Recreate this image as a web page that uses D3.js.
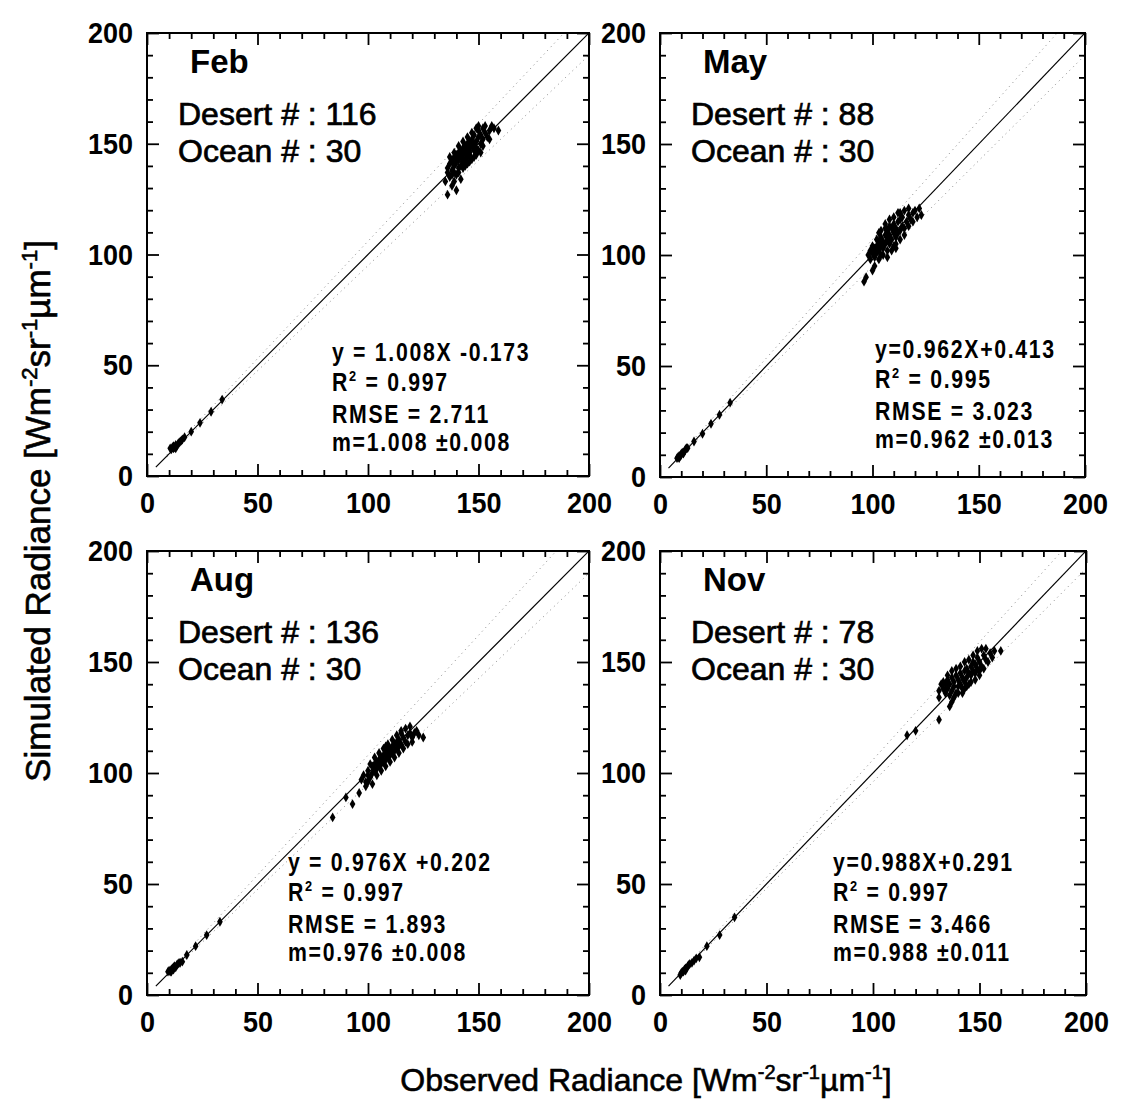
<!DOCTYPE html>
<html>
<head>
<meta charset="utf-8">
<script src="https://cdn.jsdelivr.net/npm/d3@7"></script>
<style>
  body { margin: 0; background: #fff; }
</style>
</head>
<body>
<div id="chart"></div>
<script>
// ---- data ----
var months = ["Feb", "May", "Aug", "Nov"];
var desertCounts = [116, 88, 136, 78];
var oceanCounts = [30, 30, 30, 30];
var eqLabels = ["y = 1.008X -0.173", "y=0.962X+0.413", "y = 0.976X +0.202", "y=0.988X+0.291"];
var r2Labels = ["0.997", "0.995", "0.997", "0.997"];
var rmseLabels = ["2.711", "3.023", "1.893", "3.466"];
var mLabels = ["m=1.008 \u00b10.008", "m=0.962 \u00b10.013", "m=0.976 \u00b10.008", "m=0.988 \u00b10.011"];
var bandUpper = [1.06, 1.07, 1.08, 1.06];
var bandLower = [0.95, 0.95, 0.95, 0.96];
var majorTicks = [0, 50, 100, 150, 200];
var minorTicks = [10, 20, 30, 40, 60, 70, 80, 90, 110, 120, 130, 140, 160, 170, 180, 190];

// [observed, simulated]
var febDesert = [[136,139],[137,141],[138,138],[138,142],[139,140],[139,144],[140,142],[140,145],[141,139],[141,143],
  [141,146],[142,144],[142,147],[143,142],[143,145],[143,148],[144,146],[144,149],[145,144],[145,147],
  [145,150],[146,148],[146,151],[146,145],[147,149],[147,152],[148,147],[148,150],[148,154],[149,151],
  [149,148],[150,153],[150,156],[151,150],[151,154],[152,152],[152,157],[153,155],[154,153],[155,156],
  [157,157],[159,156],[135,133],[136,127],[138,131],[140,129],[142,134],[139,137],[144,140],[146,142],
  [137,144],[139,146],[141,149],[143,151],[145,153],[147,155],[149,157],[150,158],[140,136],[142,140],
  [144,143],[146,146],[148,144],[150,147],[152,149],[153,158],[155,152],[156,158],[138,136],[137,135],
  [139,133],[141,137],[143,139],[145,141],[147,143],[149,145],[151,146],[136,137]];
var mayDesert = [[98,100],[99,98],[100,101],[101,99],[101,103],[102,101],[102,104],[103,102],[103,106],[104,100],
  [104,104],[104,108],[105,103],[105,106],[106,105],[106,109],[107,102],[107,107],[107,111],[108,105],
  [108,109],[109,107],[109,112],[110,104],[110,110],[110,114],[111,108],[111,112],[112,110],[112,115],
  [113,111],[113,116],[114,113],[114,117],[115,112],[116,115],[117,118],[118,116],[119,119],[121,117],
  [123,118],[96,88],[97,90],[100,93],[101,95],[103,110],[106,112],[111,103],
  [100,104],[102,107],[104,111],[106,114],[108,116],[110,117],[112,119],[115,120],[117,121],[105,100],
  [107,99],[109,102],[111,105],[113,107],[115,109],[117,113],[119,115],[120,120],[99,102],[103,98],
  [108,113],[113,119],[122,121]];
var augDesert = [[97,97],[99,96],[100,99],[100,101],[101,98],[102,100],[102,103],[103,101],[103,104],[104,102],
  [104,105],[105,103],[105,106],[106,104],[106,107],[107,105],[107,108],[108,106],[108,109],[109,107],
  [109,110],[110,108],[110,111],[111,109],[111,112],[112,110],[112,113],[113,111],[113,114],[114,112],
  [114,115],[115,113],[116,116],[117,114],[118,117],[119,118],[120,116],[121,118],[123,117],[125,116],
  [93,86],[96,91],[90,89],[84,80],[102,95],[108,112],[115,118],
  [101,104],[103,107],[105,109],[107,111],[109,113],[111,115],[113,117],[115,119],[117,120],[119,121],
  [104,99],[106,101],[108,103],[110,105],[112,107],[114,109],[116,111],[118,113],[120,114],[122,119],
  [98,99],[99,94],[100,96]];
var novDesert = [[131,137],[133,138],[134,136],[134,140],[135,138],[135,142],[136,135],[136,140],[137,137],[137,143],
  [138,139],[138,141],[139,136],[139,144],[140,139],[140,142],[141,140],[141,145],[142,138],[142,143],
  [143,141],[143,146],[144,143],[144,147],[145,140],[145,145],[146,144],[146,148],[147,146],[147,150],
  [148,145],[148,149],[149,147],[149,152],[150,150],[151,148],[152,153],[153,151],[155,154],[157,155],
  [160,155],[137,132],[136,130],[131,124],[116,117],[120,119],[150,146],[143,138],
  [133,141],[135,144],[137,146],[139,147],[141,148],[143,150],[145,151],[147,153],[149,155],[151,156],
  [153,156],[138,134],[140,136],[142,136],[144,139],[146,141],[148,142],[150,144],[152,147],[154,150],
  [156,152],[131,134],[132,140]];

var febOcean = [[10.5,12.5],[11,12],[11.5,13],[12,12.5],[12,13.5],[12.5,13],[13,14],[13.5,13.5],[14,14.5],[14.5,15],
  [15,15.5],[15.5,16],[16,16.5],[13,12.5],[17,17.5],[20,20],[24,24],[29,29],[34,34.5]];
var mayOcean = [[8,8.5],[8.5,9],[9,9.5],[9.5,9.5],[10,10],[10,10.5],[10.5,11],[11,11],[11.5,11.5],[12,12.5],
  [12.5,13],[9,8.5],[11,10.5],[13,13],[16,16],[20,19.5],[24,24],[28,28],[33,33.5]];
var augOcean = [[9.5,10.5],[10,11],[10.5,10.5],[11,11.5],[11.5,12],[12,11.5],[12,12.5],[12.5,13],[13,12.5],[13.5,13.5],
  [14,14],[14.5,14.5],[15,14.5],[16,15],[11,10.5],[18,18],[22,22],[27,27],[33,33]];
var novOcean = [[9.5,9],[10,10],[10.5,10.5],[11,10.5],[11.5,11.5],[12,12],[12.5,12],[13,13],[13.5,13.5],[14,14],
  [15,14.5],[16,15.5],[17,16.5],[18.5,17],[12,11],[22,22],[28,27],[35,35]];

var desertSets = [febDesert, mayDesert, augDesert, novDesert];
var oceanSets = [febOcean, mayOcean, augOcean, novOcean];

// ---- layout ----
var boxes = [
  { left: 147, top: 33, w: 442, h: 443 },
  { left: 660, top: 33, w: 425, h: 444 },
  { left: 147, top: 551, w: 442, h: 444 },
  { left: 660, top: 551, w: 426, h: 444 }
];
var statsPos = [[185, 328], [215, 325], [141, 320], [173, 320]];
var squeeze = 0.9;   // mimic the condensed bold face of the original

var svg = d3.select("#chart").append("svg")
  .attr("width", 1125)
  .attr("height", 1099)
  .style("background", "#fff");

var sans = '"Liberation Sans", Arial, Helvetica, sans-serif';

for (var i = 0; i < 4; i++) {
  var b = boxes[i];
  var g = svg.append("g").attr("transform", "translate(" + b.left + "," + b.top + ")");

  var x = d3.scaleLinear().domain([0, 200]).range([0, b.w]);
  var y = d3.scaleLinear().domain([0, 200]).range([b.h, 0]);

  g.append("clipPath").attr("id", "clip" + i)
    .append("rect").attr("width", b.w).attr("height", b.h);
  var plot = g.append("g").attr("clip-path", "url(#clip" + i + ")");

  var line = d3.line().x(function (d) { return x(d[0]); }).y(function (d) { return y(d[1]); });

  // dotted bands
  [bandUpper[i], bandLower[i]].forEach(function (f) {
    plot.append("path")
      .datum([[9, 9 * f], [200, 200 * f]])
      .attr("d", line)
      .attr("fill", "none")
      .attr("stroke", "#888")
      .attr("stroke-width", 1)
      .attr("stroke-dasharray", "1,4");
  });

  // 1:1 line
  plot.append("path")
    .datum([[4, 4], [200, 200]])
    .attr("d", line)
    .attr("fill", "none")
    .attr("stroke", "#000")
    .attr("stroke-width", 1.2);

  // points
  var sym = d3.symbol().type(d3.symbolDiamond).size(28);
  plot.selectAll(".ocean")
    .data(oceanSets[i])
    .enter().append("path")
    .attr("transform", function (d) { return "translate(" + x(d[0]) + "," + y(d[1]) + ")"; })
    .attr("d", sym)
    .attr("fill", "#000");
  plot.selectAll(".desert")
    .data(desertSets[i])
    .enter().append("path")
    .attr("transform", function (d) { return "translate(" + x(d[0]) + "," + y(d[1]) + ")"; })
    .attr("d", sym)
    .attr("fill", "#000");

  // axes: ticks inward on all four sides
  var bottomMajor = g.append("g").attr("transform", "translate(0," + b.h + ")")
    .call(d3.axisBottom(x).tickValues(majorTicks).tickSize(-12).tickSizeOuter(0).tickPadding(16));
  g.append("g").attr("transform", "translate(0," + b.h + ")")
    .call(d3.axisBottom(x).tickValues(minorTicks).tickSize(-6).tickSizeOuter(0).tickFormat(""));
  var leftMajor = g.append("g")
    .call(d3.axisLeft(y).tickValues(majorTicks).tickSize(-12).tickSizeOuter(0).tickPadding(0));
  g.append("g")
    .call(d3.axisLeft(y).tickValues(minorTicks).tickSize(-6).tickSizeOuter(0).tickFormat(""));
  g.append("g")
    .call(d3.axisTop(x).tickValues(majorTicks).tickSize(-12).tickSizeOuter(0).tickFormat(""));
  g.append("g")
    .call(d3.axisTop(x).tickValues(minorTicks).tickSize(-6).tickSizeOuter(0).tickFormat(""));
  g.append("g").attr("transform", "translate(" + b.w + ",0)")
    .call(d3.axisRight(y).tickValues(majorTicks).tickSize(-12).tickSizeOuter(0).tickFormat(""));
  g.append("g").attr("transform", "translate(" + b.w + ",0)")
    .call(d3.axisRight(y).tickValues(minorTicks).tickSize(-6).tickSizeOuter(0).tickFormat(""));

  g.selectAll(".domain").remove();
  g.selectAll(".tick line").attr("stroke", "#000").attr("stroke-width", 1.8);
  bottomMajor.selectAll("text")
    .attr("font-family", sans).attr("font-weight", "bold").attr("font-size", 30).attr("fill", "#000")
    .attr("transform", "scale(" + squeeze + ",1)");
  leftMajor.selectAll("text")
    .attr("font-family", sans).attr("font-weight", "bold").attr("font-size", 30).attr("fill", "#000")
    .attr("x", -14 / squeeze)
    .attr("transform", "scale(" + squeeze + ",1)");

  // frame
  g.append("rect")
    .attr("width", b.w).attr("height", b.h)
    .attr("fill", "none").attr("stroke", "#000").attr("stroke-width", 2);

  // month + counts
  g.append("text").attr("x", 43).attr("y", 40)
    .attr("font-family", sans).attr("font-weight", "bold").attr("font-size", 33)
    .text(months[i]);
  g.append("text").attr("x", 31).attr("y", 92)
    .attr("font-family", sans).attr("font-size", 32)
    .attr("stroke", "#000").attr("stroke-width", 0.7)
    .text("Desert # : " + desertCounts[i]);
  g.append("text").attr("x", 31).attr("y", 129)
    .attr("font-family", sans).attr("font-size", 32)
    .attr("stroke", "#000").attr("stroke-width", 0.7)
    .text("Ocean # : " + oceanCounts[i]);

  // stats block
  var st = g.append("g")
    .attr("transform", "translate(" + statsPos[i][0] + "," + statsPos[i][1] + ") scale(0.85,1)")
    .attr("font-family", sans).attr("font-weight", "bold").attr("font-size", 25)
    .style("letter-spacing", "2px");
  st.append("text").attr("y", 0).text(eqLabels[i]);
  var r2t = st.append("text").attr("y", 30);
  r2t.append("tspan").text("R");
  r2t.append("tspan").attr("font-size", 15).attr("dy", -10).text("2");
  r2t.append("tspan").attr("dy", 10).text(" = " + r2Labels[i]);
  st.append("text").attr("y", 62).text("RMSE = " + rmseLabels[i]);
  st.append("text").attr("y", 90).text(mLabels[i]);
}

// axis titles
function unitTitle(sel, label, sup, lift) {
  sel.append("tspan").text(label + " [Wm");
  sel.append("tspan").attr("font-size", sup).attr("dy", -lift).text("-2");
  sel.append("tspan").attr("dy", lift).text("sr");
  sel.append("tspan").attr("font-size", sup).attr("dy", -lift).text("-1");
  sel.append("tspan").attr("dy", lift).text("\u00b5m");
  sel.append("tspan").attr("font-size", sup).attr("dy", -lift).text("-1");
  sel.append("tspan").attr("dy", lift).text("]");
}

var xt = svg.append("text")
  .attr("x", 646).attr("y", 1091)
  .attr("text-anchor", "middle")
  .attr("font-family", sans).attr("font-size", 32)
  .attr("stroke", "#000").attr("stroke-width", 0.6);
unitTitle(xt, "Observed Radiance", 20, 12);

var yt = svg.append("text")
  .attr("transform", "translate(50,511) rotate(-90)")
  .attr("text-anchor", "middle")
  .attr("font-family", sans).attr("font-size", 35)
  .attr("stroke", "#000").attr("stroke-width", 0.6);
unitTitle(yt, "Simulated Radiance", 22, 13);
</script>
</body>
</html>
